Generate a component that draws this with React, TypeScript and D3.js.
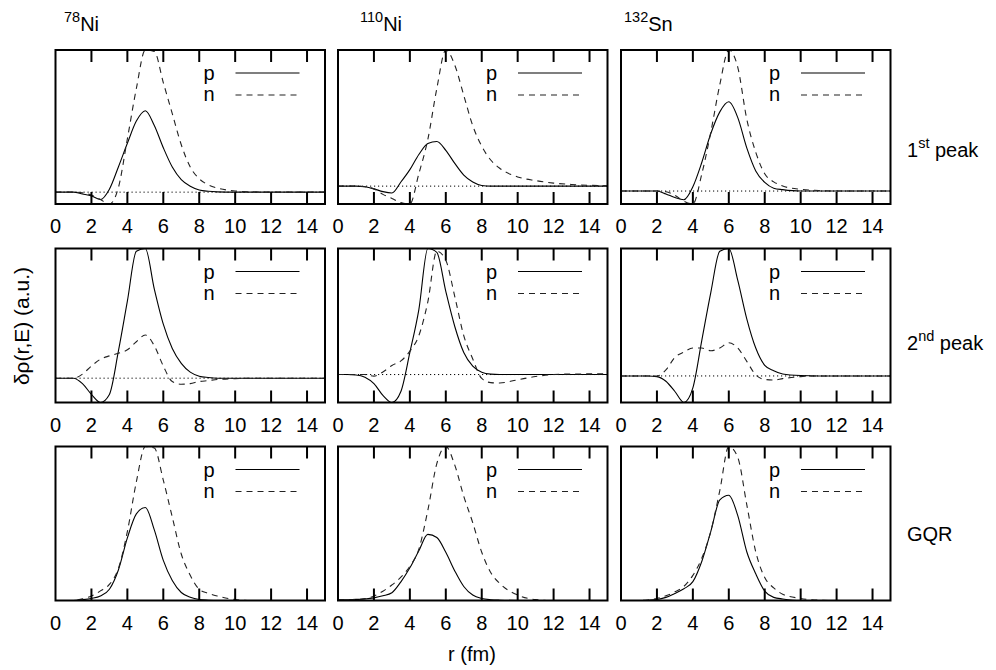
import React from "react";
import * as d3 from "d3";

// radial grid (fm) shared by every transition density
const R = [0, 0.5, 1, 1.5, 2, 2.5, 3, 3.5, 4, 4.5, 5, 5.5, 6, 6.5, 7, 7.5, 8, 8.5, 9, 10, 11, 12, 13, 14, 15];

// 1st peak
const ni78FirstP = [0, 0, 0, -0.012, -0.025, -0.05, 0.02, 0.17, 0.33, 0.48, 0.55, 0.45, 0.3, 0.17, 0.085, 0.04, 0.015, 0.006, 0.002, 0, 0, 0, 0, 0, 0];
const ni78FirstN = [0, 0, 0, -0.005, -0.02, -0.05, -0.08, 0.03, 0.36, 0.7, 0.96, 0.95, 0.74, 0.53, 0.32, 0.17, 0.09, 0.05, 0.028, 0.008, 0.002, 0, 0, 0, 0];
const ni110FirstP = [0, 0, 0, -0.005, -0.02, -0.04, -0.05, 0.03, 0.12, 0.23, 0.31, 0.325, 0.26, 0.165, 0.08, 0.03, 0.005, 0, 0, 0, 0, 0, 0, 0, 0];
const ni110FirstN = [0, 0, 0, -0.005, -0.02, -0.06, -0.09, -0.12, -0.13, 0.09, 0.34, 0.71, 0.99, 0.88, 0.66, 0.44, 0.29, 0.19, 0.13, 0.067, 0.04, 0.022, 0.012, 0.006, 0.003];
const sn132FirstP = [0, 0, 0, 0, 0, -0.02, -0.045, -0.06, 0.03, 0.2, 0.4, 0.55, 0.62, 0.51, 0.3, 0.14, 0.06, 0.02, 0.01, 0, 0, 0, 0, 0, 0];
const sn132FirstN = [0, 0, 0, 0, 0, -0.005, -0.03, -0.07, -0.09, 0.12, 0.41, 0.74, 0.98, 0.86, 0.5, 0.27, 0.12, 0.064, 0.035, 0.012, 0.004, 0, 0, 0, 0];

// 2nd peak
const ni78SecondP = [0, 0, 0, -0.04, -0.12, -0.18, -0.12, 0.2, 0.57, 0.94, 0.96, 0.66, 0.4, 0.22, 0.11, 0.045, 0.015, 0.005, 0, 0, 0, 0, 0, 0, 0];
const ni78SecondN = [0, 0, 0, 0.03, 0.09, 0.14, 0.165, 0.185, 0.21, 0.27, 0.32, 0.24, 0.09, -0.025, -0.045, -0.04, -0.025, -0.018, -0.01, -0.003, 0, 0, 0, 0, 0];
const ni110SecondP = [0, 0, -0.003, -0.02, -0.07, -0.16, -0.215, -0.13, 0.17, 0.5, 0.97, 0.94, 0.64, 0.37, 0.17, 0.065, 0.018, 0.003, 0, 0, 0, 0, 0, 0, 0];
const ni110SecondN = [0, 0, 0, 0, -0.012, 0.02, 0.07, 0.105, 0.18, 0.3, 0.56, 0.95, 0.88, 0.6, 0.3, 0.12, -0.03, -0.062, -0.065, -0.04, -0.015, 0, 0.004, 0.005, 0.005];
const sn132SecondP = [0, 0, 0, 0, -0.005, -0.04, -0.117, -0.2, -0.09, 0.27, 0.63, 0.94, 0.96, 0.72, 0.43, 0.21, 0.08, 0.04, 0.015, 0.003, 0, 0, 0, 0, 0];
const sn132SecondN = [0, 0, 0, 0, 0, 0.045, 0.14, 0.18, 0.21, 0.21, 0.19, 0.21, 0.25, 0.21, 0.11, 0.008, -0.026, -0.031, -0.02, -0.005, 0, 0, 0, 0, 0];

// giant quadrupole resonance
const ni78GqrP = [0, 0, 0, 0.005, 0.013, 0.028, 0.07, 0.19, 0.39, 0.54, 0.58, 0.44, 0.25, 0.125, 0.05, 0.02, 0.006, 0.002, 0, 0, 0, 0, 0, 0, 0];
const ni78GqrN = [0, 0, 0, 0.01, 0.028, 0.06, 0.1, 0.2, 0.43, 0.74, 0.96, 0.95, 0.75, 0.52, 0.29, 0.157, 0.07, 0.045, 0.028, 0.006, 0, 0, 0, 0, 0];
const ni110GqrP = [0.004, 0.005, 0.007, 0.01, 0.017, 0.03, 0.05, 0.12, 0.21, 0.32, 0.425, 0.405, 0.31, 0.19, 0.09, 0.035, 0.013, 0.005, 0.002, 0, 0, 0, 0, 0, 0];
const ni110GqrN = [0.003, 0.004, 0.006, 0.012, 0.028, 0.06, 0.1, 0.15, 0.22, 0.33, 0.58, 0.88, 0.99, 0.87, 0.67, 0.5, 0.31, 0.18, 0.11, 0.035, 0.006, 0, 0, 0, 0];
const sn132GqrP = [0, 0, 0, 0.002, 0.006, 0.02, 0.045, 0.075, 0.12, 0.25, 0.44, 0.64, 0.67, 0.54, 0.31, 0.17, 0.06, 0.02, 0.01, 0, 0, 0, 0, 0, 0];
const sn132GqrN = [0, 0, 0, 0.003, 0.013, 0.03, 0.055, 0.09, 0.16, 0.27, 0.44, 0.7, 0.98, 0.91, 0.61, 0.31, 0.146, 0.08, 0.04, 0.013, 0.002, 0, 0, 0, 0];

const nuclei = [
  { mass: "78", sym: "Ni", x: 64 },
  { mass: "110", sym: "Ni", x: 360 },
  { mass: "132", sym: "Sn", x: 624 },
];
const states = [
  { main: "1", sup: "st", rest: " peak", y: 157 },
  { main: "2", sup: "nd", rest: " peak", y: 350 },
  { main: "GQR", sup: "", rest: "", y: 541 },
];
const grid = [
  [[ni78FirstP, ni78FirstN], [ni110FirstP, ni110FirstN], [sn132FirstP, sn132FirstN]],
  [[ni78SecondP, ni78SecondN], [ni110SecondP, ni110SecondN], [sn132SecondP, sn132SecondN]],
  [[ni78GqrP, ni78GqrN], [ni110GqrP, ni110GqrN], [sn132GqrP, sn132GqrN]],
];
const xTicks = [0, 2, 4, 6, 8, 10, 12, 14];

const W = 996;
const H = 670;
const colLeft = [55.5, 338, 621];
const rowTop = [50, 248.5, 446.5];
const PW = 269.5;
const PH = 154;
const FONT = "'Liberation Sans', Arial, Helvetica, sans-serif";

function Panel({ left, top, p, n }: { left: number; top: number; p: number[]; n: number[] }) {
  const x = d3.scaleLinear().domain([0, 15]).range([left, left + PW]);
  const ext = d3.extent([...p, ...n]) as [number, number];
  const y = d3.scaleLinear().domain(ext).range([top + PH, top]);
  const line = d3
    .line<number>()
    .x((_, i) => x(R[i]))
    .y((v) => y(v))
    .curve(d3.curveMonotoneX);
  const tickLen = 12;
  const lx0 = left + 180;
  const lx1 = left + 244;
  return (
    <g>
      <line x1={left} x2={left + PW} y1={y(0)} y2={y(0)} stroke="#000" strokeWidth={1} strokeDasharray="1.2 2.8" />
      <path d={line(p) || ""} fill="none" stroke="#000" strokeWidth={1.1} />
      <path d={line(n) || ""} fill="none" stroke="#222" strokeWidth={1.1} strokeDasharray="6 5" />
      {xTicks.filter((t) => t > 0).map((t) => (
        <g key={t}>
          <line x1={x(t)} x2={x(t)} y1={top} y2={top + tickLen} stroke="#000" strokeWidth={2} />
          <line x1={x(t)} x2={x(t)} y1={top + PH} y2={top + PH - tickLen} stroke="#000" strokeWidth={2} />
        </g>
      ))}
      {xTicks.map((t) => (
        <text key={"l" + t} x={x(t)} y={top + PH + 29} textAnchor="middle" fontSize={20} fontFamily={FONT}>
          {t}
        </text>
      ))}
      <rect x={left} y={top} width={PW} height={PH} fill="none" stroke="#000" strokeWidth={2} />
      <text x={left + 159} y={top + 30} textAnchor="end" fontSize={20} fontFamily={FONT}>p</text>
      <line x1={lx0} x2={lx1} y1={top + 23} y2={top + 23} stroke="#000" strokeWidth={1.1} />
      <text x={left + 159} y={top + 51} textAnchor="end" fontSize={20} fontFamily={FONT}>n</text>
      <line x1={lx0} x2={lx1} y1={top + 45} y2={top + 45} stroke="#222" strokeWidth={1.1} strokeDasharray="6 5" />
    </g>
  );
}

export default function App() {
  return (
    <svg width={W} height={H} style={{ position: "absolute", left: 0, top: 0, background: "#fff" }}>
      <rect width={W} height={H} fill="#fff" />
      {grid.map((row, ri) =>
        row.map(([p, n], ci) => (
          <Panel key={ri + "-" + ci} left={colLeft[ci]} top={rowTop[ri]} p={p} n={n} />
        ))
      )}
      {nuclei.map((d) => (
        <text key={d.mass} x={d.x} y={31} fontFamily={FONT}>
          <tspan fontSize={14.5} dy={-9}>{d.mass}</tspan>
          <tspan fontSize={20} dy={9}>{d.sym}</tspan>
        </text>
      ))}
      {states.map((s) => (
        <text key={s.y} x={907} y={s.y} fontFamily={FONT} fontSize={20}>
          <tspan>{s.main}</tspan>
          {s.sup ? <tspan fontSize={14.5} dy={-9}>{s.sup}</tspan> : null}
          {s.rest ? <tspan dy={9}>{s.rest}</tspan> : null}
        </text>
      ))}
      <text
        transform="translate(29,326) rotate(-90)"
        textAnchor="middle"
        fontSize={21}
        fontFamily={FONT}
      >
        δρ(r,E) (a.u.)
      </text>
      <text x={472} y={661} textAnchor="middle" fontSize={20} fontFamily={FONT}>
        r (fm)
      </text>
    </svg>
  );
}
